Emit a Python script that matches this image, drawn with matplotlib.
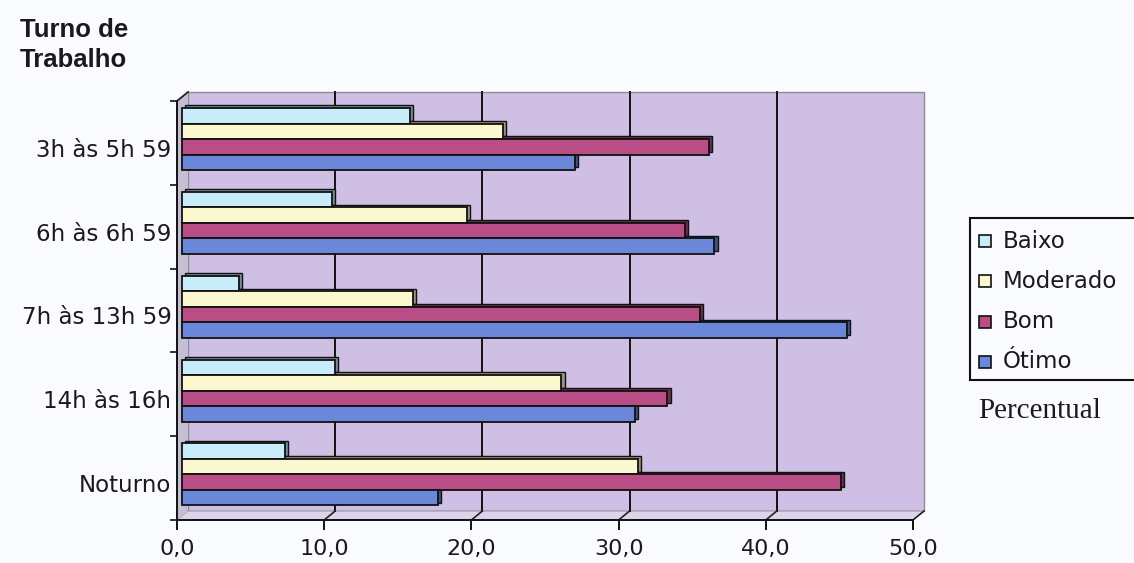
import numpy as np
import matplotlib
matplotlib.use("Agg")
import matplotlib.pyplot as plt
import matplotlib.colors as mcolors
from matplotlib.patches import Polygon, Rectangle
from matplotlib.lines import Line2D
from matplotlib.transforms import offset_copy, IdentityTransform, Affine2D

# ---- data -------------------------------------------------------------
shifts = ["3h às 5h 59", "6h às 6h 59", "7h às 13h 59", "14h às 16h", "Noturno"]
levels = ["Baixo", "Moderado", "Bom", "Ótimo"]
baixo = [15.5, 10.2, 3.9, 10.4, 7.0]
moderado = [21.8, 19.4, 15.7, 25.8, 31.0]
bom = [35.8, 34.2, 35.2, 33.0, 44.8]
otimo = [26.7, 36.2, 45.2, 30.8, 17.4]
x_ticks = [0, 10, 20, 30, 40, 50]
x_tick_labels = ["0,0", "10,0", "20,0", "30,0", "40,0", "50,0"]

# ---- style ------------------------------------------------------------
BG = "#f9fbfe"
WALL = "#cfbfe5"
FLOOR = "#ddd4ec"
SIDE_WALL = "#c6bfd3"
colors = ["#c9ecfb", "#fbf8cf", "#b94d86", "#6a87d9"]
SANS = ["DejaVu Sans"]
ARIAL = ["Liberation Sans", "DejaVu Sans"]
SERIF = ["Liberation Serif", "DejaVu Serif"]

W, H = 1134, 563
DPI = 100
DX, DY = 11, 9          # depth of the chart box, in pixels


def darker(c, f=0.6):
    r, g, b = mcolors.to_rgb(c)
    return (r * f, g * f, b * f)


fig = plt.figure(figsize=(W / DPI, H / DPI), dpi=DPI, facecolor=BG)
x_left, x_right = 177, 913
y_bottom, y_top = 520, 101
ax = fig.add_axes([x_left / W, (H - y_bottom) / H,
                   (x_right - x_left) / W, (y_bottom - y_top) / H])
ax.set_xlim(0, 50)
ax.set_ylim(0, 5)
ax.patch.set_visible(False)


def at_depth(d):
    return offset_copy(ax.transData, x=DX * d, y=DY * d, units="dots")


def disp(x, y, d):
    px, py = ax.transData.transform((x, y))
    return (px + DX * d, py + DY * d)


ident = IdentityTransform()

# back wall
ax.add_patch(Rectangle((0, 0), 50, 5, transform=at_depth(1), facecolor=WALL,
                       edgecolor="#8c8c99", lw=1.0, zorder=0, clip_on=False))
# floor
floor = [disp(0, 0, 0), disp(50, 0, 0), disp(50, 0, 1), disp(0, 0, 1)]
ax.add_patch(Polygon(floor, closed=True, transform=ident, facecolor=FLOOR,
                     edgecolor="#9a9aa6", lw=0.8, zorder=0.5, clip_on=False))
# left side wall
side = [disp(0, 0, 0), disp(0, 5, 0), disp(0, 5, 1), disp(0, 0, 1)]
ax.add_patch(Polygon(side, closed=True, transform=ident, facecolor=SIDE_WALL,
                     edgecolor="none", zorder=0.5, clip_on=False))
ax.add_line(Line2D(*zip(disp(0, 5, 0), disp(0, 5, 1)), transform=ident,
                   color="#222222", lw=1.3, zorder=6, clip_on=False))

# gridlines on the back wall and their traces across the floor
for v in x_ticks[1:-1]:
    ax.plot([v, v], [0, 5], color="#111111", lw=1.4, transform=at_depth(1),
            zorder=1, clip_on=False)
for v in x_ticks[1:]:
    ax.add_line(Line2D(*zip(disp(v, 0, 1), disp(v, 0, 0)), transform=ident,
                       color="#222222", lw=1.2, zorder=1, clip_on=False))

# bars: a darker copy pushed back for the depth, then the front face
n = len(shifts)
centers = np.arange(n)[::-1] + 0.5
bh = 0.185
series = [baixo, moderado, bom, otimo]
for k, (vals, col) in enumerate(zip(series, colors)):
    yk = centers + (1.5 - k) * bh
    ax.barh(yk, vals, height=bh, color=darker(col), edgecolor="#111111",
            lw=1.0, transform=at_depth(0.72), zorder=2, clip_on=False)
for k, (vals, col, name) in enumerate(zip(series, colors, levels)):
    yk = centers + (1.5 - k) * bh
    ax.barh(yk, vals, height=bh, color=col, edgecolor="#111111",
            lw=1.3, transform=at_depth(0.42), zorder=3, label=name, clip_on=False)

ax.set_xlim(0, 50)
ax.set_ylim(0, 5)

# axes lines and ticks
for s in ("top", "right"):
    ax.spines[s].set_visible(False)
for s in ("left", "bottom"):
    ax.spines[s].set_color("#111111")
    ax.spines[s].set_linewidth(1.4)
    ax.spines[s].set_zorder(6)

ax.set_xticks(x_ticks, x_tick_labels)
ax.tick_params(axis="x", direction="out", length=7, width=1.4, color="#111111",
               pad=7, labelsize=16, labelcolor="#1a1a1a")
ax.set_yticks(centers, shifts)
ax.set_yticks(np.arange(n + 1), minor=True)
ax.tick_params(axis="y", which="major", length=0, pad=4, labelsize=16.5,
               labelcolor="#1a1a1a")
ax.tick_params(axis="y", which="minor", direction="out", length=5, width=1.2,
               color="#111111")
for lbl in ax.get_xticklabels() + ax.get_yticklabels():
    lbl.set_fontfamily(SANS)
for lbl in ax.get_yticklabels():
    lbl.set_transform(lbl.get_transform() + Affine2D().translate(0, -5))

# axis titles
fig.text(20 / W, 1 - 45 / H, "Turno de\nTrabalho", fontsize=18.5, fontweight="bold",
         family=ARIAL, color="#1a1a1a", ha="left", va="center", linespacing=1.3)
fig.text(1040 / W, 1 - 411 / H, "Percentual", fontsize=21, family=SERIF,
         color="#1a1a1a", ha="center", va="center")

# legend
fig.patches.append(Rectangle((970 / W, 1 - 380 / H), 200 / W, 162 / H,
                             transform=fig.transFigure, facecolor=BG,
                             edgecolor="#111111", lw=1.5))
for k, (name, col) in enumerate(zip(levels, colors)):
    yy = 1 - (241 + k * 40.3) / H
    fig.lines.append(Line2D([985 / W], [yy], transform=fig.transFigure, marker="s",
                            markersize=8, markerfacecolor=col,
                            markeredgecolor="#111111", markeredgewidth=1.2,
                            linestyle="none"))
    fig.text(1003 / W, yy, name, fontsize=16.5, family=SANS, color="#1a1a1a",
             ha="left", va="center")

fig.savefig("out.png", dpi=DPI, facecolor=BG)
